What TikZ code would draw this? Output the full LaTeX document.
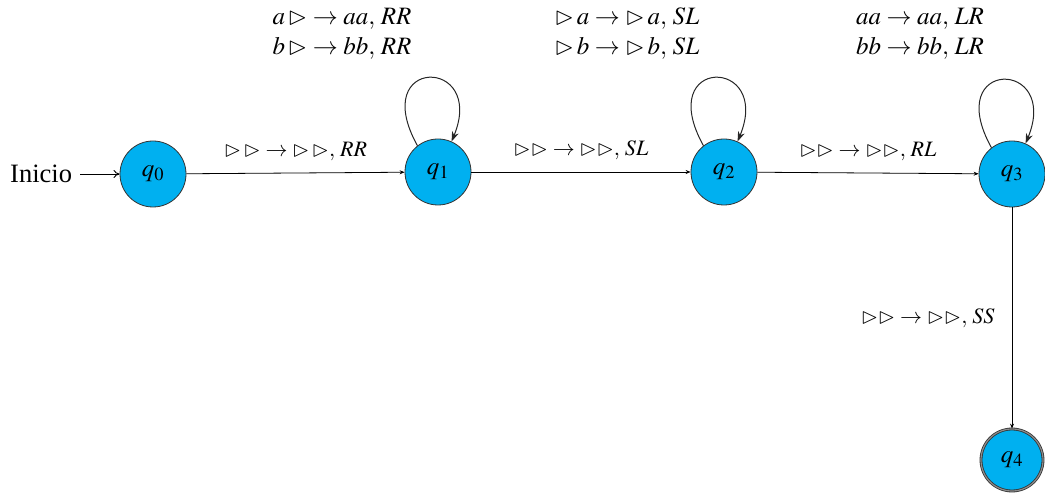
\documentclass[tikz,border=0pt]{standalone}
\usepackage{amssymb}
\usepackage{mathptmx}
\usepackage{fontspec}
\setmainfont{Liberation Serif}
\usetikzlibrary{arrows.meta}
\definecolor{statefill}{RGB}{0,176,240}
\newcommand{\tri}{\mathord{\vartriangleright}}
\tikzset{
  state/.style={circle, draw=black!80, line width=0.8pt, fill=statefill,
    minimum size=66pt, inner sep=0pt, font=\fontsize{25}{27}\selectfont},
  accept/.style={state, double=black!45, double distance=1.2pt, minimum size=62pt},
  trans/.style={draw=black, line width=0.8pt, -{Stealth[length=5pt,width=4pt]}},
  loopedge/.style={draw=black!85, line width=1pt, -{Stealth[length=10pt,width=7pt]}},
  lbl/.style={font=\fontsize{25}{30}\selectfont, align=center, inner sep=0pt},
  elbl/.style={font=\fontsize{22}{26}\selectfont, inner sep=0pt}
}
\begin{document}
\begin{tikzpicture}[x=1pt,y=-1pt]
  \useasboundingbox (0,0) rectangle (1045,494);
  \node[state] (q0) at (153,174) {$q_0$};
  \node[state] (q1) at (438,172) {$q_1$};
  \node[state] (q2) at (724,172) {$q_2$};
  \node[state] (q3) at (1012,174) {$q_3$};
  \node[accept] (q4) at (1012,460) {$q_4$};
  \node[anchor=base west, inner sep=0pt, font=\fontsize{26.5}{28}\selectfont] (ini) at (10,183) {Inicio};
  \coordinate (inis) at (80,174);
  \draw[line width=0.9pt, -{To[length=6pt,width=8pt]}] (inis) -- (q0.west);

  \draw[trans] (q0) -- node[elbl, above=12pt] {$\tri\,\tri\rightarrow\tri\,\tri,\,RR$} (q1);
  \draw[trans] (q1) -- node[elbl, above=12pt] {$\tri\tri\rightarrow\tri\tri,\,SL$} (q2);
  \draw[trans] (q2) -- node[elbl, above=12pt] {$\tri\tri\rightarrow\tri\tri,\,RL$} (q3);
  \draw[trans] (q3) -- node[elbl, left=17pt] {$\tri\tri\rightarrow\tri\tri,\,SS$} (q4);

  \draw[loopedge] (q1.128) .. controls +(-50,-90) and +(35,-85) .. (q1.66);
  \draw[loopedge] (q2.128) .. controls +(-50,-90) and +(35,-85) .. (q2.66);
  \draw[loopedge] (q3.128) .. controls +(-50,-90) and +(35,-85) .. (q3.66);

  \node[lbl] (l1) at (342,34) {$a\,\tri\rightarrow aa,\,RR$\\$b\,\tri\rightarrow bb,\,RR$};
  \node[lbl] (l2) at (627,34) {$\tri\, a\rightarrow\tri\, a,\,SL$\\$\tri\, b\rightarrow\tri\, b,\,SL$};
  \node[lbl] (l3) at (920,34) {$aa\rightarrow aa,\,LR$\\$bb\rightarrow bb,\,LR$};
\end{tikzpicture}
\end{document}
